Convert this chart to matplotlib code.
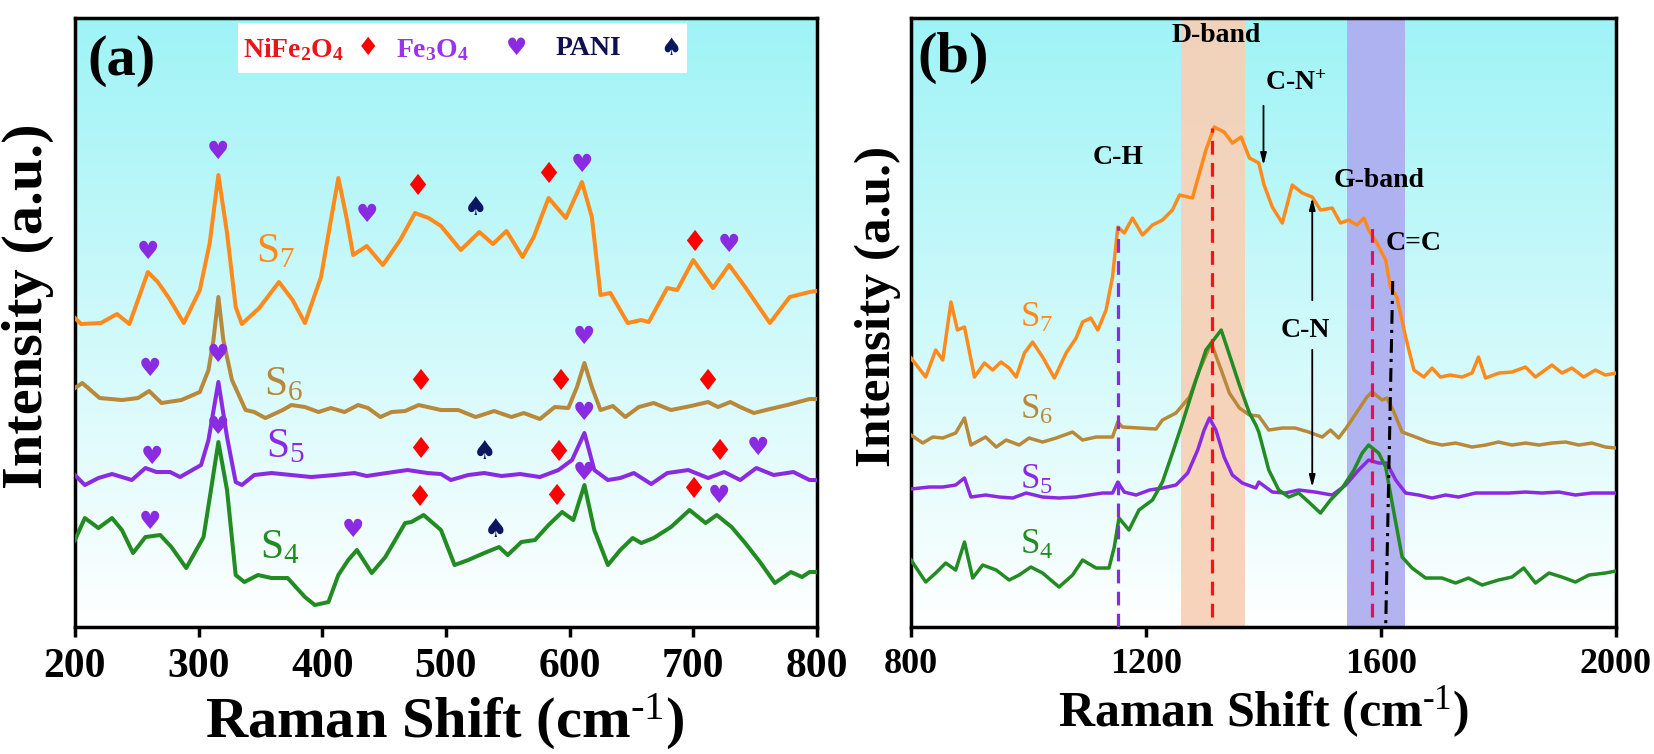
import numpy as np
import matplotlib
matplotlib.use("Agg")
import matplotlib.pyplot as plt
from matplotlib.patches import Rectangle

plt.rcParams["font.family"] = ["Liberation Serif", "DejaVu Sans"]
plt.rcParams["mathtext.fontset"] = "custom"
plt.rcParams["mathtext.rm"] = "Liberation Serif"
plt.rcParams["mathtext.it"] = "Liberation Serif:italic"
plt.rcParams["mathtext.bf"] = "Liberation Serif:bold"

# ---------------- panel (a) data : 200-800 cm-1 ----------------
a_s7_x = [200, 205, 221, 234, 244, 253, 259, 267, 276, 288, 301, 309, 316, 323, 330, 335, 349, 365, 376, 386,
          399, 406, 413, 420, 425, 436, 449, 463, 475, 486, 496, 512, 527, 538, 549, 562, 571, 583, 597, 610,
          618, 625, 633, 647, 658, 664, 679, 687, 700, 716, 729, 742, 762, 778, 794, 800]
a_s7_y = [313, 307, 308, 317, 307, 338, 359, 349, 333, 308, 341, 388, 456, 398, 324, 307, 323, 349, 331, 308,
          354, 404, 453, 411, 376, 385, 366, 391, 418, 413, 405, 381, 399, 387, 400, 374, 394, 433, 413, 449,
          414, 336, 338, 308, 311, 309, 343, 341, 371, 343, 366, 344, 308, 334, 339, 340]

a_s6_x = [200, 206, 220, 238, 251, 260, 270, 286, 301, 308, 312, 316, 320, 327, 338, 345, 354, 368, 375, 386,
          397, 407, 418, 429, 437, 447, 456, 467, 478, 496, 510, 524, 539, 553, 563, 576, 588, 599, 606, 612,
          618, 625, 635, 645, 656, 668, 682, 698, 712, 720, 730, 738, 749, 762, 776, 794, 800]
a_s6_y = [243, 248, 233, 231, 233, 240, 228, 231, 239, 261, 291, 334, 291, 251, 221, 219, 213, 221, 226, 224,
          219, 223, 219, 226, 223, 214, 219, 220, 226, 221, 221, 214, 220, 214, 218, 212, 224, 223, 244, 268,
          244, 221, 225, 214, 224, 228, 221, 225, 229, 224, 229, 224, 218, 222, 226, 232, 232]

a_s5_x = [200, 208, 219, 230, 246, 257, 266, 277, 285, 302, 308, 316, 323, 330, 335, 345, 359, 375, 391, 410,
          426, 436, 452, 469, 485, 496, 504, 518, 531, 545, 560, 576, 591, 602, 612, 620, 631, 641, 652, 666,
          679, 696, 712, 725, 738, 751, 765, 781, 794, 800]
a_s5_y = [156, 146, 153, 157, 151, 163, 159, 159, 154, 166, 191, 249, 194, 149, 146, 156, 158, 156, 154, 156,
          158, 155, 158, 161, 158, 157, 151, 156, 158, 155, 157, 154, 161, 171, 198, 161, 151, 153, 158, 147,
          158, 161, 153, 159, 151, 163, 156, 159, 151, 151]

a_s4_x = [200, 208, 219, 230, 238, 247, 257, 269, 278, 290, 304, 310, 316, 323, 330, 337, 348, 359, 372, 386,
          394, 405, 413, 421, 428, 440, 451, 467, 472, 482, 496, 507, 518, 531, 543, 550, 561, 572, 583, 594,
          603, 612, 620, 631, 641, 651, 658, 668, 682, 697, 710, 719, 731, 742, 754, 766, 779, 788, 794, 800]
a_s4_y = [91, 113, 103, 113, 101, 78, 94, 96, 84, 63, 94, 141, 189, 141, 56, 49, 56, 53, 53, 34,
          26, 29, 56, 71, 81, 58, 74, 108, 109, 116, 101, 66, 71, 78, 84, 76, 89, 91, 106, 119,
          111, 146, 101, 66, 81, 93, 88, 93, 104, 121, 108, 116, 104, 88, 69, 48, 59, 54, 59, 59]

# phase markers (x, y) in panel (a)
a_heart_x = [259, 316, 436, 610, 729, 261, 316, 612, 262, 316, 612, 752, 261, 425, 612, 721]
a_heart_y = [379, 479, 416, 466, 386, 262, 276, 294, 174, 204, 218, 183, 109, 101, 158, 135]
a_diamond_x = [477, 583, 701, 479, 592, 711, 479, 591, 721, 478, 589, 700]
a_diamond_y = [444, 456, 388, 249, 249, 249, 181, 178, 179, 133, 134, 141]
a_spade_x = [524, 531, 540]
a_spade_y = [423, 179, 101]

a_labels = ["S$_7$", "S$_6$", "S$_5$", "S$_4$"]
a_label_x = [362, 369, 370, 366]
a_label_y = [379, 246, 184, 83]

# ---------------- panel (b) data : 800-2000 cm-1 ----------------
b_s7_x = [800, 825, 842, 854, 868, 879, 891, 908, 925, 939, 953, 967, 979, 993, 1007, 1024, 1044, 1064, 1081, 1092,
          1106, 1118, 1132, 1143, 1152, 1163, 1177, 1194, 1211, 1228, 1245, 1257, 1279, 1291, 1302, 1316, 1333, 1347,
          1362, 1376, 1392, 1401, 1415, 1432, 1449, 1466, 1483, 1497, 1517, 1531, 1545, 1559, 1571, 1579, 1593, 1608,
          1616, 1627, 1642, 1656, 1673, 1687, 1701, 1718, 1738, 1755, 1766, 1778, 1801, 1823, 1846, 1863, 1891, 1908,
          1925, 1945, 1965, 1982, 2000]
b_s7_y = [273, 254, 281, 271, 329, 301, 304, 254, 268, 261, 269, 263, 254, 278, 289, 274, 253, 278, 293, 309,
          313, 301, 321, 354, 404, 398, 413, 396, 406, 411, 421, 436, 433, 458, 481, 504, 499, 488,
          494, 473, 468, 446, 424, 408, 446, 438, 434, 421, 423, 408, 411, 406, 413, 401, 388, 371,
          344, 334, 294, 261, 254, 263, 254, 256, 254, 258, 274, 253, 258, 259, 264, 254, 266, 258,
          263, 254, 261, 256, 258]

b_s6_x = [800, 820, 837, 854, 876, 891, 902, 927, 945, 962, 984, 1001, 1024, 1047, 1075, 1092, 1115, 1143, 1152, 1160,
          1188, 1217, 1228, 1251, 1274, 1291, 1311, 1328, 1342, 1359, 1376, 1392, 1409, 1432, 1454, 1477, 1500, 1514,
          1528, 1542, 1559, 1576, 1585, 1602, 1610, 1619, 1636, 1659, 1681, 1704, 1727, 1755, 1778, 1800, 1823, 1846,
          1869, 1891, 1914, 1937, 1959, 1982, 2000]
b_s6_y = [196, 188, 194, 193, 198, 213, 186, 194, 184, 191, 186, 193, 189, 193, 199, 191, 194, 194, 209, 204,
          203, 202, 211, 218, 234, 261, 288, 261, 238, 223, 216, 215, 201, 203, 203, 199, 194, 201,
          193, 204, 219, 234, 239, 231, 233, 223, 199, 194, 189, 186, 188, 184, 186, 189, 186, 188,
          186, 188, 189, 186, 188, 184, 183]

b_s5_x = [800, 831, 854, 876, 891, 902, 927, 950, 973, 996, 1024, 1052, 1081, 1103, 1126, 1143, 1152, 1163, 1183, 1206,
          1228, 1251, 1271, 1288, 1299, 1308, 1319, 1333, 1347, 1364, 1387, 1392, 1415, 1437, 1460, 1488, 1517, 1540,
          1562, 1579, 1596, 1610, 1625, 1642, 1664, 1687, 1710, 1732, 1761, 1789, 1818, 1846, 1874, 1903, 1931, 1959,
          1982, 2000]
b_s5_y = [142, 144, 144, 146, 153, 134, 136, 134, 133, 138, 134, 133, 134, 136, 138, 138, 149, 139, 136, 141,
          143, 146, 158, 181, 201, 213, 201, 174, 156, 148, 143, 149, 139, 138, 141, 139, 136, 146,
          161, 171, 168, 168, 151, 138, 136, 133, 136, 134, 138, 138, 138, 139, 138, 139, 136, 138,
          138, 138]

b_s4_x = [800, 825, 842, 859, 876, 891, 905, 922, 945, 967, 984, 1004, 1024, 1052, 1075, 1092, 1115, 1137, 1146, 1154,
          1171, 1188, 1211, 1228, 1245, 1262, 1285, 1302, 1328, 1345, 1359, 1376, 1387, 1392, 1409, 1426, 1443, 1460,
          1477, 1497, 1514, 1534, 1554, 1568, 1579, 1596, 1608, 1619, 1636, 1653, 1676, 1704, 1727, 1749, 1772, 1800,
          1823, 1843, 1863, 1886, 1908, 1931, 1954, 1982, 2000]
b_s4_y = [71, 49, 58, 68, 61, 89, 53, 66, 61, 51, 56, 64, 58, 44, 56, 71, 63, 63, 84, 113,
          101, 121, 131, 149, 178, 208, 251, 281, 301, 271, 246, 218, 206, 199, 161, 141, 134, 138,
          129, 118, 131, 143, 161, 178, 186, 178, 164, 128, 74, 63, 53, 53, 48, 53, 46, 51,
          54, 63, 48, 58, 54, 49, 56, 58, 60]

b_labels = ["S$_7$", "S$_6$", "S$_5$", "S$_4$"]
b_label_x = [1014, 1014, 1013, 1014]
b_label_y = [313, 221, 151, 86]

d_band = (1260, 1369)
g_band = (1543, 1641)
ch_pos, d_pos, g_pos = 1152, 1312, 1585

colors = ["#FF8A1C", "#B8893A", "#8A2BE2", "#228B22"]
YLIM = (4, 613)


def gradient_bg(ax):
    # cyan at the top fading to white at the bottom
    n = 256
    top = np.array([0.62, 0.955, 0.965])
    t = np.linspace(0, 1, n)[:, None]
    img = (top * (1 - t) + np.ones(3) * t)[:, None, :]
    ax.imshow(img, extent=[0, 1, 0, 1], transform=ax.transAxes, aspect="auto", zorder=0)


def style_axes(ax, ticks, fs):
    ax.set_ylim(*YLIM)
    ax.set_yticks([])
    ax.set_xticks(ticks)
    ax.set_xticklabels([str(t) for t in ticks], fontsize=fs, fontweight="bold")
    ax.tick_params(axis="x", direction="out", length=7, width=2.5, pad=8)
    for s in ax.spines.values():
        s.set_linewidth(2.5)


fig = plt.figure(figsize=(16.54, 7.54), dpi=100)
axa = fig.add_axes([0.0453, 0.1684, 0.4486, 0.8077])
axb = fig.add_axes([0.5508, 0.1684, 0.4262, 0.8077])

# ---------- (a) ----------
gradient_bg(axa)
axa.set_xlim(200, 800)
for xs, ys, c in zip([a_s7_x, a_s6_x, a_s5_x, a_s4_x], [a_s7_y, a_s6_y, a_s5_y, a_s4_y], colors):
    axa.plot(xs, ys, color=c, lw=2.9, zorder=3, solid_joinstyle="round")

sym_kw = dict(ha="center", va="center", family="DejaVu Sans", zorder=5)
for x, y in zip(a_heart_x, a_heart_y):
    axa.text(x, y, "\u2665", color="#8A2BE2", fontsize=18, **sym_kw)
for x, y in zip(a_diamond_x, a_diamond_y):
    axa.text(x, y, "\u2666", color="#FF0000", fontsize=21, **sym_kw)
for x, y in zip(a_spade_x, a_spade_y):
    axa.text(x, y, "\u2660", color="#0B1560", fontsize=19, **sym_kw)

for lab, x, y, c in zip(a_labels, a_label_x, a_label_y, colors):
    axa.text(x, y, lab, color=c, fontsize=30, ha="center", va="center", zorder=5)

axa.add_patch(Rectangle((332, 558), 363, 50, facecolor="white", edgecolor="none", zorder=4))
axa.text(377, 581, "NiFe$_\\mathbf{2}$O$_\\mathbf{4}$", color="#E8151B", fontsize=20, fontweight="bold",
         ha="center", va="center", zorder=5)
axa.text(437, 583, "\u2666", color="#FF0000", fontsize=18, **sym_kw)
axa.text(489, 581, "Fe$_\\mathbf{3}$O$_\\mathbf{4}$", color="#9933EE", fontsize=20, fontweight="bold",
         ha="center", va="center", zorder=5)
axa.text(557, 583, "\u2665", color="#8A2BE2", fontsize=17, **sym_kw)
axa.text(615, 583, "PANI", color="#101050", fontsize=20, fontweight="bold", ha="center", va="center", zorder=5)
axa.text(682, 583, "\u2660", color="#0B1560", fontsize=17, **sym_kw)

axa.text(238, 570, "(a)", fontsize=42, fontweight="bold", ha="center", va="center", zorder=5)
style_axes(axa, [200, 300, 400, 500, 600, 700, 800], 30)

# ---------- (b) ----------
gradient_bg(axb)
axb.set_xlim(800, 2000)
axb.axvspan(*d_band, color="#F8D0B6", alpha=0.92, lw=0, zorder=1)
axb.axvspan(*g_band, color="#AFAFF0", alpha=0.95, lw=0, zorder=1)
for xs, ys, c in zip([b_s7_x, b_s6_x, b_s5_x, b_s4_x], [b_s7_y, b_s6_y, b_s5_y, b_s4_y], colors):
    axb.plot(xs, ys, color=c, lw=2.5, zorder=3)

axb.plot([ch_pos, ch_pos], [4, 405], color="#8A2BE2", lw=2.3, ls=(0, (4.3, 2.6)), zorder=4)
axb.plot([d_pos, d_pos], [14, 503], color="#FF1010", lw=2.3, ls=(0, (4.3, 2.6)), zorder=4)
axb.plot([g_pos, g_pos], [14, 408], color="#E0105A", lw=2.3, ls=(0, (4.3, 2.6)), zorder=4)
axb.plot([1620, 1608], [350, 4], color="black", lw=2.2, ls=(0, (4.5, 2, 1, 2)), zorder=4)

arrow_kw = dict(arrowstyle="-|>,head_length=0.7,head_width=0.18", color="black", lw=1.3)
axb.annotate("", xy=(1400, 463), xytext=(1400, 528), arrowprops=arrow_kw, zorder=5)
axb.annotate("", xy=(1483, 436), xytext=(1483, 328), arrowprops=arrow_kw, zorder=5)
axb.annotate("", xy=(1483, 141), xytext=(1483, 284), arrowprops=arrow_kw, zorder=5)

ann_kw = dict(fontsize=20, fontweight="bold", ha="center", va="center", zorder=5)
axb.text(1152, 474, "C-H", **ann_kw)
axb.text(1319, 596, "D-band", **ann_kw)
axb.text(1455, 548, "C-N$^\\mathbf{+}$", **ann_kw)
axb.text(1597, 451, "G-band", **ann_kw)
axb.text(1656, 388, "C=C", **ann_kw)
axb.text(1471, 301, "C-N", **ann_kw)

for lab, x, y, c in zip(b_labels, b_label_x, b_label_y, colors):
    axb.text(x, y, lab, color=c, fontsize=25, ha="center", va="center", zorder=5)

axb.text(871, 573, "(b)", fontsize=42, fontweight="bold", ha="center", va="center", zorder=5)
style_axes(axb, [800, 1200, 1600, 2000], 26)

# axis titles
fig.text(0.017, 0.594, "Intensity (a.u.)", rotation=90, fontsize=42, fontweight="bold", ha="center", va="center")
fig.text(0.531, 0.593, "Intensity (a.u.)", rotation=90, fontsize=37, fontweight="bold", ha="center", va="center")
fig.text(0.269, 0.042, "Raman Shift (cm$^{\\text{-1}}$)", fontsize=42, fontweight="bold", ha="center", va="center")
fig.text(0.764, 0.056, "Raman Shift (cm$^{\\text{-1}}$)", fontsize=36, fontweight="bold", ha="center", va="center")

fig.savefig("out.png", dpi=100)
